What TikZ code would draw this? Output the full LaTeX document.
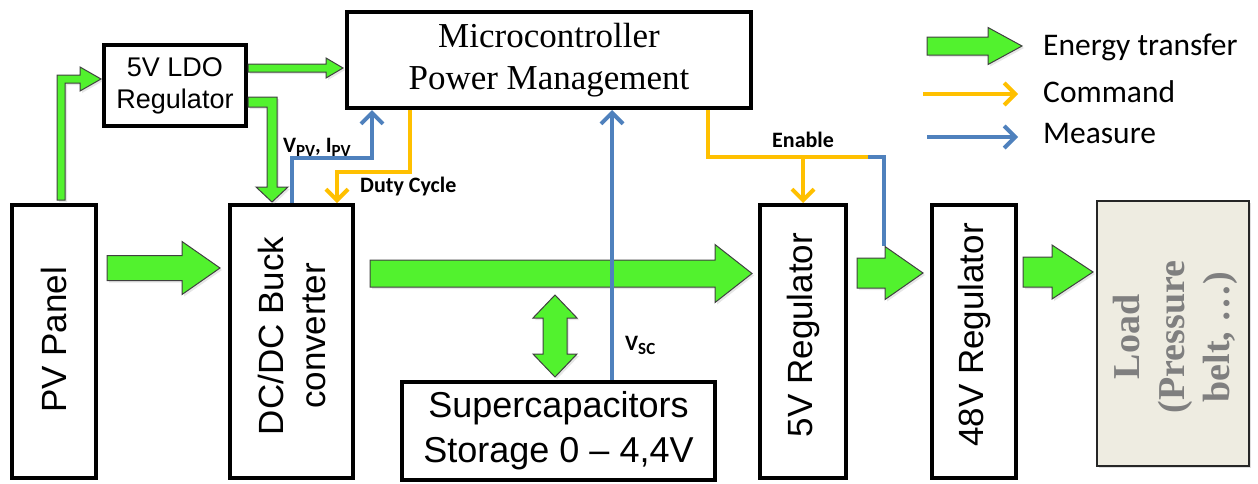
\documentclass[tikz,border=0pt]{standalone}
\usepackage{fontspec}
\setmainfont{Liberation Serif}
\newfontfamily\arialf{Liberation Sans}
\newfontfamily\calf{Carlito}
\usetikzlibrary{arrows.meta,shadows,calc}
\definecolor{egreen}{HTML}{52F22E}
\definecolor{cmdorange}{HTML}{FFC000}
\definecolor{measblue}{HTML}{4F81BD}
\definecolor{loadfill}{HTML}{EEECE1}
\definecolor{loadtext}{HTML}{7F7F7F}
\newcommand\hfat[6]{% x1, x2, yc, half body, half head, head length
  \draw[energy] (#1,{#3-#4}) -- ({#2-#6},{#3-#4}) -- ({#2-#6},{#3-#5}) -- (#2,#3)
    -- ({#2-#6},{#3+#5}) -- ({#2-#6},{#3+#4}) -- (#1,{#3+#4}) -- cycle;}
\newcommand\mysubs[1]{\raisebox{-4.5pt}{\fontsize{17}{17}\selectfont #1}}
\begin{document}
\begin{tikzpicture}[x=1pt,y=-1pt,
  box/.style={draw=black, line width=4pt, fill=white, inner sep=0pt,
    drop shadow={opacity=0.25, shadow xshift=2pt, shadow yshift=-2pt}},
  bigsans/.style={font=\arialf\fontsize{35}{42}\selectfont, align=center},
  energy/.style={draw=black!75, line width=1pt, fill=egreen, line join=miter,
    drop shadow={opacity=0.2, shadow xshift=2pt, shadow yshift=-2pt}},
  tip/.style={-{Straight Barb[length=11pt,width=22pt]}},
  cmd/.style={draw=cmdorange, line width=4pt, tip},
  cmdline/.style={draw=cmdorange, line width=4pt},
  meas/.style={draw=measblue, line width=4pt, tip},
  measline/.style={draw=measblue, line width=4pt},
  smalllbl/.style={font=\calf\bfseries\fontsize{22}{26}\selectfont, anchor=base west, inner sep=0pt},
  legtxt/.style={font=\calf\fontsize{31.5}{36}\selectfont, anchor=base west, inner sep=0pt}
]
\useasboundingbox (0,0) rectangle (1258,483);

% ---- boxes ----
\node[box, minimum width=84pt, minimum height=273pt] (pv) at (54,341.5) {};
\node[box, minimum width=142pt, minimum height=81pt, font=\arialf\fontsize{27}{32}\selectfont, align=center] (ldo) at (175,85.5) {5V LDO\\Regulator};
\node[box, minimum width=123pt, minimum height=273pt] (dcdc) at (291.5,341.5) {};
\node[box, minimum width=404pt, minimum height=96pt, font=\fontsize{35}{42}\selectfont, align=center] (mcu) at (549,60) {Microcontroller\\Power Management};
\node[box, minimum width=313pt, minimum height=98pt, font=\arialf\fontsize{36}{45}\selectfont, align=center] (sc) at (558.5,431) {Supercapacitors\\Storage 0 \textendash{} 4,4V};
\node[box, minimum width=86pt, minimum height=273pt] (reg5) at (803,341.5) {};
\node[box, minimum width=84pt, minimum height=273pt] (reg48) at (974,341.5) {};
\node[draw=black!85, line width=2.5pt, fill=loadfill, inner sep=0pt, minimum width=152pt, minimum height=265pt,
  drop shadow={opacity=0.25, shadow xshift=2pt, shadow yshift=-2pt}] (load) at (1173,333.5) {};

% rotated texts
\node[bigsans, rotate=90] (pvt) at (54,340) {PV Panel};
\node[bigsans, rotate=90] (dcdct) at (291.5,336) {DC/DC Buck\\converter};
\node[bigsans, rotate=90] (reg5t) at (803,335) {5V Regulator};
\node[bigsans, rotate=90] (reg48t) at (974,335) {48V Regulator};
\node[rotate=90, font=\bfseries\fontsize{38}{45}\selectfont, text=loadtext, align=center] (loadt) at (1175,337) {Load\\(Pressure\\belt, \ldots)};

% ---- thin signal lines ----
\coordinate (enj) at (803,157);
\coordinate (enr) at (868,157);
\coordinate (mc) at (884,157);
\coordinate (me) at (884,246);
\draw[meas] ($(dcdc.north west)+(64,0)$) -- ++(0,-45) -| ($(mcu.south west)+(27,0)$);
\draw[cmd] ($(mcu.south west)+(65,0)$) -- ++(0,62) -| ($(dcdc.north west)+(109,0)$);
\draw[measline] (enr) -- (mc) -- (me);
\draw[cmdline] ($(mcu.south west)+(363,0)$) |- (enr);
\draw[cmd] (enj) -- (reg5.north);

% ---- energy arrows ----
\hfat{107}{220}{268}{12.5}{26.5}{38}
\hfat{370}{752}{273.5}{13.5}{29}{37}
\hfat{857}{923}{273}{15}{26.5}{38}
\hfat{1023}{1093}{272}{15}{27}{41}
% PV -> LDO
\draw[energy] (57,200) -- (57,75) -- (80,75) -- (80,67) -- (101,79) -- (80,91) -- (80,83) -- (65,83) -- (65,200) -- cycle;
% LDO -> MCU
\draw[energy] (248,64) -- (326,64) -- (326,58) -- (343,68) -- (326,78) -- (326,72) -- (248,72) -- cycle;
% LDO -> DC/DC
\draw[energy] (248,97) -- (277,97) -- (277,187) -- (288,187) -- (272,202) -- (256,187) -- (267,187) -- (267,107) -- (248,107) -- cycle;
% DC bus <-> supercaps
\draw[energy] (555,295) -- (577,318) -- (567,318) -- (567,354) -- (577,354) -- (555,377) -- (533,354) -- (543,354) -- (543,318) -- (533,318) -- cycle;

% V_SC measure (over the bus arrow)
\draw[meas] ($(sc.north west)+(212,0)$) -- ($(mcu.south west)+(267,0)$);

% ---- labels ----
\node[smalllbl] (lpv) at (283,152) {V\mysubs{PV}, I\mysubs{PV}};
\node[smalllbl] (lduty) at (360,192) {Duty Cycle};
\node[smalllbl] (len) at (772,147) {Enable};
\node[smalllbl] (lvsc) at (625,350) {V\mysubs{SC}};

% ---- legend ----
\hfat{927}{1022}{46}{9}{18.5}{34}
\coordinate (lo1) at (923,94);
\coordinate (lo2) at (1018,94);
\coordinate (lb1) at (927,137);
\coordinate (lb2) at (1018,137);
\draw[cmd] (lo1) -- (lo2);
\draw[meas] (lb1) -- (lb2);
\node[legtxt] (le) at (1043,55) {Energy transfer};
\node[legtxt] (lc) at (1043,102) {Command};
\node[legtxt] (lm) at (1043,143) {Measure};
\end{tikzpicture}
\end{document}
